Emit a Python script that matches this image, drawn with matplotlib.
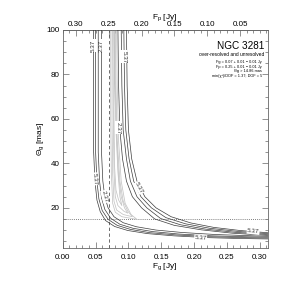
import matplotlib
matplotlib.use("Agg")
import matplotlib.pyplot as plt
from matplotlib.ticker import MultipleLocator

plt.rcParams['font.family'] = ['Liberation Sans', 'DejaVu Sans']
plt.rcParams['mathtext.fontset'] = 'custom'
plt.rcParams['mathtext.rm'] = 'Liberation Sans'
plt.rcParams['mathtext.it'] = 'Liberation Sans'

# ---- data ----
fg_best = 0.07      # Jy
fp_best = 0.25      # Jy
theta_min = 14.86   # mas
chi2_min = 1.37
dof = 5

# contour lines (Fg [Jy], theta_g [mas])
# level 5.37 (outer)
c537_low_fg = [0.047, 0.047, 0.047, 0.049, 0.052, 0.057, 0.065, 0.079, 0.099, 0.129, 0.169, 0.219, 0.269, 0.312]
c537_low_th = [100, 70, 45, 32, 23.5, 18.3, 14.3, 11.6, 9.8, 8.4, 7.4, 6.6, 6.2, 6.0]
c537_up_fg = [0.097, 0.098, 0.100, 0.105, 0.113, 0.125, 0.142, 0.165, 0.195, 0.230, 0.270, 0.312]
c537_up_th = [100, 75, 55, 42, 32, 25, 20, 16, 13.2, 11.2, 9.8, 8.8]
# level 4.37
c437_low_fg = [0.050, 0.050, 0.050, 0.052, 0.055, 0.060, 0.069, 0.083, 0.103, 0.133, 0.173, 0.223, 0.273, 0.312]
c437_low_th = [100, 70, 45, 32, 24, 18.8, 14.8, 12.1, 10.3, 8.8, 7.8, 7.0, 6.6, 6.4]
c437_up_fg = [0.093, 0.094, 0.096, 0.101, 0.108, 0.119, 0.135, 0.157, 0.187, 0.224, 0.266, 0.312]
c437_up_th = [100, 75, 55, 42, 32, 25, 20, 15.6, 12.8, 10.8, 9.4, 8.4]
# level 3.37
c337_low_fg = [0.054, 0.054, 0.054, 0.056, 0.059, 0.064, 0.073, 0.087, 0.107, 0.137, 0.177, 0.227, 0.277, 0.312]
c337_low_th = [100, 70, 45, 32, 24.5, 19.3, 15.3, 12.6, 10.8, 9.3, 8.2, 7.4, 7.0, 6.8]
c337_up_fg = [0.089, 0.090, 0.092, 0.097, 0.103, 0.113, 0.128, 0.149, 0.179, 0.218, 0.262, 0.312]
c337_up_th = [100, 75, 55, 42, 32, 25, 20, 15.2, 12.4, 10.4, 9.0, 8.0]
# level 2.37
c237_low_fg = [0.059, 0.059, 0.059, 0.061, 0.064, 0.069, 0.078, 0.092, 0.112, 0.142, 0.182, 0.232, 0.280, 0.312]
c237_low_th = [100, 70, 45, 32, 25, 20, 16, 13.3, 11.5, 10.0, 8.9, 8.0, 7.5, 7.2]
c237_up_fg = [0.084, 0.085, 0.087, 0.091, 0.097, 0.106, 0.120, 0.140, 0.170, 0.211, 0.258, 0.312]
c237_up_th = [100, 75, 55, 42, 32, 25, 20, 15.0, 12.1, 10.1, 8.6, 7.6]

# inner (grey) contours, open at the top
grey1_fg = [0.073, 0.073, 0.074, 0.076, 0.080, 0.090, 0.113, 0.104, 0.095, 0.089, 0.085, 0.083, 0.082]
grey1_th = [100, 60, 35, 22, 18, 16, 14.8, 17, 22, 32, 50, 75, 100]
grey2_fg = [0.075, 0.075, 0.076, 0.078, 0.082, 0.092, 0.106, 0.099, 0.092, 0.087, 0.083, 0.081, 0.080]
grey2_th = [100, 60, 35, 23, 19, 17, 16.0, 18.5, 23, 32, 50, 75, 100]
grey3_fg = [0.076, 0.077, 0.078, 0.080, 0.084, 0.093, 0.099, 0.094, 0.089, 0.085, 0.082, 0.080, 0.079]
grey3_th = [100, 60, 36, 25, 21, 18.5, 17.6, 20, 25, 34, 52, 75, 100]
grey4_fg = [0.078, 0.078, 0.079, 0.081, 0.085, 0.090, 0.087, 0.084, 0.081, 0.079, 0.078]
grey4_th = [100, 60, 38, 28, 23.5, 21, 25, 36, 55, 78, 100]

black_lines = [(c537_low_fg, c537_low_th), (c537_up_fg, c537_up_th),
               (c437_low_fg, c437_low_th), (c437_up_fg, c437_up_th),
               (c337_low_fg, c337_low_th), (c337_up_fg, c337_up_th),
               (c237_low_fg, c237_low_th), (c237_up_fg, c237_up_th)]
grey_lines = [(grey1_fg, grey1_th), (grey2_fg, grey2_th),
              (grey3_fg, grey3_th), (grey4_fg, grey4_th)]

# contour labels: (text, Fg, theta, rotation)
label_text = ["5.37", "2.37", "5.37", "2.37", "5.37", "2.37", "5.37", "5.37", "5.37"]
label_fg = [0.047, 0.059, 0.093, 0.084, 0.0485, 0.0635, 0.116, 0.210, 0.290]
label_th = [93, 93, 88, 56, 33, 25, 29, 6.65, 9.35]
label_rot = [90, 90, -90, -90, -85, -75, -62, -4, -6]

xlim = (0.0, 0.312)
ylim = (2.0, 100.0)

fig = plt.figure(figsize=(2.99, 2.94), dpi=100)
ax = fig.add_axes([0.21, 0.157, 0.685, 0.741])

for fg, th in grey_lines:
    ax.plot(fg, th, color='#c4c4c4', lw=0.55, zorder=2)
for fg, th in black_lines:
    ax.plot(fg, th, color='#3c3c3c', lw=0.5, zorder=3)

for t, x, y, r in zip(label_text, label_fg, label_th, label_rot):
    ax.text(x, y, t, fontsize=4.5, rotation=r, ha='center', va='center',
            color='#333333', zorder=4,
            bbox=dict(boxstyle='square,pad=0.05', fc='white', ec='none'))

ax.axvline(fg_best, color='#555555', lw=0.6, ls=(0, (4, 3)), zorder=1)
ax.axhline(theta_min, color='#555555', lw=0.6, ls=(0, (1, 1.5)), zorder=1)

ax.set_xlim(*xlim)
ax.set_ylim(*ylim)

for sp in ax.spines.values():
    sp.set_color('#666666')
    sp.set_linewidth(0.6)

ax.xaxis.set_major_locator(MultipleLocator(0.05))
ax.xaxis.set_minor_locator(MultipleLocator(0.01))
ax.yaxis.set_major_locator(MultipleLocator(20))
ax.yaxis.set_minor_locator(MultipleLocator(5))
ax.xaxis.set_major_formatter(plt.FormatStrFormatter('%.2f'))
ax.tick_params(which='both', direction='in', right=True, color='#666666',
               labelsize=5.8, width=0.5)
ax.tick_params(which='major', length=4)
ax.tick_params(which='minor', length=2)
ax.tick_params(axis='x', pad=4.5)
ax.tick_params(axis='y', pad=2.5)

ax.set_xlabel('F$_g$ [Jy]', fontsize=6, labelpad=0)
ax.set_ylabel('\u0398$_g$ [mas]', fontsize=6)
ax.yaxis.set_label_coords(-0.082, 0.5)

ftot = fg_best + fp_best
sec = ax.secondary_xaxis('top', functions=(lambda f: ftot - f, lambda f: ftot - f))
sec.xaxis.set_major_locator(MultipleLocator(0.05))
sec.xaxis.set_minor_locator(MultipleLocator(0.01))
sec.xaxis.set_major_formatter(plt.FormatStrFormatter('%.2f'))
sec.tick_params(which='both', direction='in', color='#666666', labelsize=5.8, width=0.5, pad=1.2)
sec.tick_params(which='major', length=4)
sec.tick_params(which='minor', length=2)
sec.spines['top'].set_color('#666666')
sec.spines['top'].set_linewidth(0.6)
sec.set_xlabel('F$_p$ [Jy]', fontsize=6, labelpad=2)

ax.text(0.985, 0.928, 'NGC 3281', transform=ax.transAxes, ha='right', va='center', fontsize=7.2)
ax.text(0.985, 0.887, 'over-resolved and unresolved', transform=ax.transAxes,
        ha='right', va='center', fontsize=3.5)
info_lines = [
    'Fg = %.2f + 0.01 \u2212 0.01 Jy' % fg_best,
    'Fp = %.2f + 0.01 \u2212 0.01 Jy' % fp_best,
    '\u0398g > %.2f mas' % theta_min,
    'min(\u03c7\u00b2)/DOF = %.2f; DOF = %d' % (chi2_min, dof),
]
for i, s in enumerate(info_lines):
    ax.text(0.972, 0.852 - 0.0205 * i, s, transform=ax.transAxes,
            ha='right', va='center', fontsize=2.8)

fig.savefig('out.png', dpi=100)
